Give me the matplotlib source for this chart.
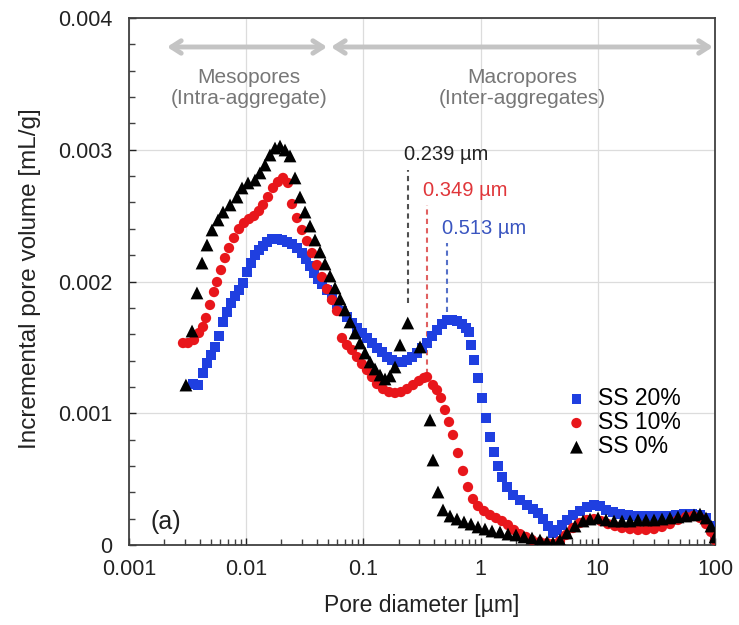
import numpy as np
import matplotlib
matplotlib.use("Agg")
import matplotlib.pyplot as plt
from matplotlib.ticker import FixedLocator, FixedFormatter, LogLocator, MultipleLocator, NullFormatter

plt.rcParams['font.family'] = ['Liberation Sans', 'DejaVu Sans']

# ---------------- data ----------------
# pore diameter [um], incremental pore volume [1e-3 mL/g]
d_ss20 = [0.003516, 0.003879, 0.004280, 0.004628, 0.005008, 0.005417, 0.005858, 0.006339, 0.006858, 0.007419,
          0.008024, 0.008682, 0.009391, 0.01016, 0.01099, 0.01189, 0.01286, 0.01391, 0.01505, 0.01660,
          0.01831, 0.02020, 0.02229, 0.02459, 0.02713, 0.02993, 0.03237, 0.03503, 0.03789, 0.04098,
          0.04433, 0.04890, 0.05395, 0.05952, 0.06566, 0.07244, 0.07991, 0.08816, 0.09727, 0.1073,
          0.1184, 0.1306, 0.1441, 0.1590, 0.1754, 0.1935, 0.2135, 0.2355, 0.2599, 0.2867,
          0.3162, 0.3489, 0.3849, 0.4246, 0.4685, 0.513, 0.5702, 0.6289, 0.6938, 0.7505,
          0.7962, 0.8282, 0.8785, 0.9502, 1.028, 1.112, 1.203, 1.301, 1.407, 1.522,
          1.680, 1.890, 2.169, 2.489, 2.800, 3.089, 3.408, 3.760, 4.147, 4.486,
          4.950, 5.461, 6.144, 7.050, 8.089, 9.281, 10.44, 11.75, 13.48, 15.47,
          18.10, 21.18, 24.79, 29.01, 33.95, 39.72, 46.48, 54.38, 63.66, 74.47,
          83.80, 92.45, 100]
v_ss20 = [1.222, 1.214, 1.305, 1.381, 1.442, 1.503, 1.586, 1.693, 1.768, 1.837,
          1.890, 1.935, 1.989, 2.072, 2.140, 2.201, 2.239, 2.269, 2.300, 2.323,
          2.323, 2.315, 2.300, 2.285, 2.254, 2.216, 2.171, 2.118, 2.064, 2.019,
          1.981, 1.935, 1.882, 1.829, 1.776, 1.731, 1.685, 1.647, 1.609, 1.571,
          1.533, 1.495, 1.465, 1.427, 1.404, 1.389, 1.389, 1.404, 1.427, 1.457,
          1.495, 1.533, 1.586, 1.632, 1.680, 1.710, 1.710, 1.700, 1.680, 1.650,
          1.617, 1.518, 1.404, 1.268, 1.116, 0.964, 0.820, 0.706, 0.600, 0.516,
          0.440, 0.380, 0.342, 0.304, 0.273, 0.243, 0.197, 0.144, 0.091, 0.114,
          0.152, 0.190, 0.228, 0.258, 0.288, 0.304, 0.296, 0.266, 0.250, 0.235,
          0.228, 0.220, 0.220, 0.220, 0.220, 0.220, 0.228, 0.235, 0.235, 0.228,
          0.205, 0.144, 0.076]

d_ss10 = [0.002889, 0.003187, 0.003586, 0.003957, 0.004280, 0.004539, 0.004910, 0.005312, 0.005634, 0.006095,
          0.006593, 0.007132, 0.007867, 0.008682, 0.009577, 0.01057, 0.01166, 0.01286, 0.01391, 0.01535,
          0.01693, 0.01868, 0.02061, 0.02273, 0.02459, 0.02713, 0.02993, 0.03302, 0.03642, 0.04018,
          0.04433, 0.04890, 0.05395, 0.05952, 0.06566, 0.07244, 0.07991, 0.08816, 0.09727, 0.1073,
          0.1184, 0.1306, 0.1470, 0.1654, 0.1861, 0.2093, 0.2355, 0.2650, 0.2981, 0.3290,
          0.349, 0.3925, 0.4246, 0.4593, 0.4968, 0.5375, 0.5814, 0.6414, 0.7078, 0.7805,
          0.8612, 0.9502, 1.069, 1.203, 1.353, 1.522, 1.713, 1.928, 2.169, 2.440,
          2.745, 3.212, 3.686, 4.147, 4.759, 5.355, 6.144, 7.050, 8.089, 9.281,
          10.65, 12.22, 14.02, 16.09, 18.83, 22.03, 25.78, 30.17, 35.30, 41.30,
          48.33, 56.56, 64.91, 74.47, 83.80, 92.45, 100]
v_ss10 = [1.533, 1.533, 1.556, 1.609, 1.655, 1.723, 1.822, 1.920, 1.996, 2.087,
          2.178, 2.254, 2.330, 2.398, 2.444, 2.474, 2.497, 2.535, 2.581, 2.641,
          2.710, 2.755, 2.786, 2.748, 2.588, 2.482, 2.391, 2.307, 2.216, 2.125,
          2.034, 1.943, 1.860, 1.776, 1.571, 1.518, 1.480, 1.427, 1.374, 1.328,
          1.275, 1.222, 1.184, 1.161, 1.154, 1.161, 1.184, 1.214, 1.245, 1.268,
          1.275, 1.214, 1.176, 1.116, 1.025, 0.934, 0.835, 0.698, 0.562, 0.440,
          0.349, 0.296, 0.258, 0.228, 0.205, 0.182, 0.152, 0.114, 0.083, 0.061,
          0.038, 0.023, 0.015, 0.008, 0.030, 0.076, 0.129, 0.167, 0.190, 0.197,
          0.182, 0.159, 0.144, 0.129, 0.121, 0.114, 0.114, 0.121, 0.137, 0.159,
          0.190, 0.213, 0.220, 0.205, 0.159, 0.099, 0.038]

d_ss0 = [0.00306, 0.00345, 0.0038, 0.0042, 0.00463, 0.00511, 0.00575, 0.00634, 0.00728, 0.00835,
         0.00921, 0.01036, 0.01189, 0.01311, 0.01447, 0.01596, 0.01761, 0.01943, 0.02143, 0.02364,
         0.02609, 0.02877, 0.03175, 0.03503, 0.03864, 0.04263, 0.04703, 0.05188, 0.05724, 0.06315,
         0.06966, 0.07686, 0.08479, 0.09354, 0.1032, 0.1139, 0.1256, 0.1386, 0.1529, 0.1687,
         0.1861, 0.2053, 0.239, 0.3041, 0.3701, 0.3925, 0.4330, 0.4777, 0.5482, 0.6289,
         0.7217, 0.8282, 0.9502, 1.090, 1.251, 1.464, 1.713, 2.005, 2.346, 2.745,
         3.212, 3.686, 4.147, 4.759, 5.461, 6.391, 7.478, 8.579, 10.04, 11.75,
         13.75, 16.09, 18.83, 22.03, 25.78, 30.17, 35.30, 41.30, 48.33, 56.56,
         66.19, 74.47, 83.80, 92.45, 100]
v_ss0 = [1.214, 1.624, 1.913, 2.140, 2.277, 2.391, 2.467, 2.527, 2.581, 2.641,
         2.710, 2.748, 2.770, 2.824, 2.884, 2.960, 3.013, 3.028, 2.998, 2.953,
         2.786, 2.641, 2.527, 2.421, 2.315, 2.224, 2.133, 2.042, 1.951, 1.867,
         1.784, 1.693, 1.609, 1.533, 1.457, 1.389, 1.336, 1.290, 1.260, 1.283,
         1.351, 1.518, 1.685, 1.503, 0.949, 0.645, 0.402, 0.266, 0.220, 0.197,
         0.175, 0.159, 0.137, 0.121, 0.106, 0.099, 0.083, 0.076, 0.061, 0.053,
         0.038, 0.023, 0.015, 0.038, 0.091, 0.144, 0.182, 0.197, 0.205, 0.190,
         0.182, 0.182, 0.182, 0.190, 0.190, 0.190, 0.197, 0.205, 0.213, 0.220,
         0.228, 0.235, 0.205, 0.144, 0.061]

# peak annotations: diameter, line bottom, line top [1e-3 mL/g]
peak_d = [0.239, 0.349, 0.513]
peak_lo = [1.84, 1.30, 1.77]
peak_hi = [2.85, 2.58, 2.29]
peak_txt = ['0.239 µm', '0.349 µm', '0.513 µm']
peak_col = ['#222222', '#e0363a', '#3a55c0']
peak_line = ['#505050', '#e06060', '#5570c8']

x_ticks = [0.001, 0.01, 0.1, 1, 10, 100]
x_labels = ['0.001', '0.01', '0.1', '1', '10', '100']
y_ticks = [0, 0.001, 0.002, 0.003, 0.004]
y_labels = ['0', '0.001', '0.002', '0.003', '0.004']

# ---------------- figure ----------------
fig = plt.figure(figsize=(7.39, 6.25), dpi=100)
ax = fig.add_axes([129/739, 80/625, 586/739, 527/625])

ax.scatter(d_ss20, np.array(v_ss20)*1e-3, marker='s', s=50, color='#1f3fe0',
           edgecolors='none', label='SS 20%', zorder=3)
ax.scatter(d_ss10, np.array(v_ss10)*1e-3, marker='o', s=55, color='#e8161b',
           edgecolors='none', label='SS 10%', zorder=4)
ax.scatter(d_ss0, np.array(v_ss0)*1e-3, marker='^', s=85, color='black',
           edgecolors='none', label='SS 0%', zorder=5)

ax.set_xscale('log')
ax.set_xlim(0.001, 100)
ax.set_ylim(0, 0.004)

ax.xaxis.set_major_locator(FixedLocator(x_ticks))
ax.xaxis.set_major_formatter(FixedFormatter(x_labels))
ax.xaxis.set_minor_locator(LogLocator(base=10, subs=np.arange(2, 10)))
ax.xaxis.set_minor_formatter(NullFormatter())
ax.yaxis.set_major_locator(FixedLocator(y_ticks))
ax.yaxis.set_major_formatter(FixedFormatter(y_labels))
ax.yaxis.set_minor_locator(MultipleLocator(0.0002))

ax.tick_params(which='both', direction='in', color='#404040', width=1)
ax.tick_params(which='major', length=5, labelsize=15.5, colors='#222222')
ax.tick_params(which='minor', length=4)
ax.tick_params(axis='x', which='major', pad=10)
ax.tick_params(axis='y', which='major', pad=12)

ax.grid(True, which='major', color='#dcdcdc', lw=0.9, zorder=0)
ax.set_axisbelow(True)
for sp in ax.spines.values():
    sp.set_color('#404040')
    sp.set_linewidth(1.3)

ax.set_xlabel('Pore diameter [µm]', fontsize=16.5, color='#222222')
ax.set_ylabel('Incremental pore volume [mL/g]', fontsize=17.5, color='#222222')
ax.xaxis.set_label_coords(0.5, -0.093)
ax.yaxis.set_label_coords(-0.15, 0.505)

# peak markers
for xd, lo, hi, t, c, lc in zip(peak_d, peak_lo, peak_hi, peak_txt, peak_col, peak_line):
    ax.plot([xd, xd], [lo*1e-3, hi*1e-3], ls=(0, (2.5, 2)), color=lc, lw=1.5, zorder=2)
    ax.annotate(t, (xd, hi*1e-3), xytext=(-3, 4), textcoords='offset points',
                ha='left', va='bottom', fontsize=14.5, color=c)

# pore class arrows
ax.annotate('', xy=(0.00211, 0.00378), xytext=(0.049, 0.00378),
            arrowprops=dict(arrowstyle='<->,head_length=0.7,head_width=0.45',
                            color='#c4c4c4', lw=3.5, shrinkA=0, shrinkB=0))
ax.annotate('', xy=(0.0529, 0.00378), xytext=(96, 0.00378),
            arrowprops=dict(arrowstyle='<->,head_length=0.7,head_width=0.45',
                            color='#c4c4c4', lw=3.5, shrinkA=0, shrinkB=0))
ax.text(0.0106, 0.00347, 'Mesopores\n(Intra-aggregate)', ha='center', va='center',
        fontsize=15, color='#777777', linespacing=1.1)
ax.text(2.25, 0.00347, 'Macropores\n(Inter-aggregates)', ha='center', va='center',
        fontsize=15, color='#777777', linespacing=1.1)

ax.text(0.036, 0.044, '(a)', transform=ax.transAxes, fontsize=18,
        ha='left', va='center', color='#222222')

ax.legend(loc='upper left', bbox_to_anchor=(0.744, 0.300), frameon=False,
          fontsize=16.5, handlelength=1.0, handletextpad=0.45, labelspacing=0.05,
          borderpad=0, borderaxespad=0, markerscale=1.0)

fig.savefig('out.png', dpi=100)
